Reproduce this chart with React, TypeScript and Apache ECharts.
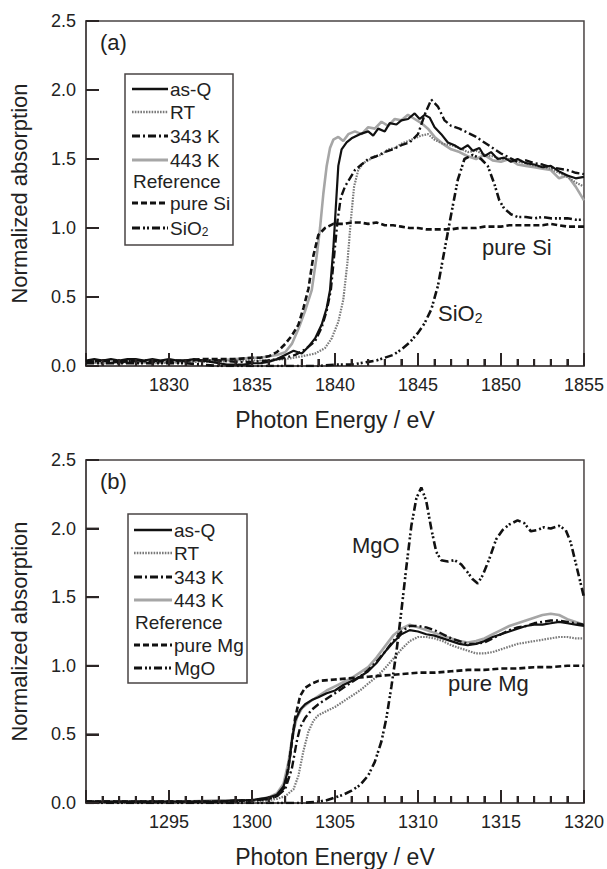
import React, { useEffect, useRef } from 'react';
import * as echarts from 'echarts';

// ---------- Panel (a): Si K-edge ----------
const siAsQ: number[][] = [[1825,0.04],[1825.5,0.05],[1826,0.04],[1826.5,0.05],[1827,0.04],[1827.5,0.05],[1828,0.05],[1828.5,0.04],[1829,0.05],[1829.5,0.04],[1830,0.05],[1830.5,0.04],[1831,0.04],[1831.5,0.05],[1832,0.04],[1832.5,0.03],[1833,0.02],[1833.5,0.01],[1834,0.01],[1834.5,0.01],[1835,0.02],[1835.5,0.02],[1836,0.03],[1836.5,0.05],[1837,0.08],[1837.5,0.11],[1838,0.09],[1838.4,0.14],[1838.8,0.2],[1839.2,0.3],[1839.5,0.42],[1839.7,0.55],[1839.9,0.85],[1840.05,1.15],[1840.2,1.45],[1840.4,1.57],[1840.7,1.62],[1841,1.65],[1841.5,1.68],[1842,1.7],[1842.3,1.67],[1842.6,1.72],[1843,1.7],[1843.3,1.76],[1843.7,1.75],[1844,1.78],[1844.4,1.79],[1844.8,1.83],[1845.1,1.79],[1845.4,1.82],[1845.7,1.8],[1846,1.73],[1846.4,1.68],[1846.8,1.62],[1847.2,1.6],[1847.6,1.57],[1848,1.6],[1848.3,1.56],[1848.7,1.58],[1849,1.52],[1849.4,1.55],[1849.8,1.5],[1850.2,1.51],[1850.6,1.48],[1851,1.5],[1851.5,1.47],[1852,1.46],[1852.5,1.44],[1853,1.45],[1853.5,1.41],[1854,1.38],[1854.5,1.36],[1855,1.37]];
const siRT: number[][] = [[1825,0.02],[1826,0.03],[1827,0.02],[1828,0.03],[1829,0.03],[1830,0.02],[1831,0.03],[1832,0.03],[1833,0.03],[1834,0.04],[1835,0.04],[1836,0.04],[1837,0.05],[1838,0.07],[1838.8,0.09],[1839.4,0.13],[1839.8,0.2],[1840.2,0.32],[1840.5,0.48],[1840.75,0.75],[1840.95,1.05],[1841.15,1.3],[1841.4,1.42],[1841.7,1.47],[1842,1.49],[1842.4,1.52],[1842.8,1.53],[1843.2,1.57],[1843.6,1.58],[1844,1.61],[1844.4,1.63],[1844.8,1.65],[1845.2,1.67],[1845.6,1.68],[1846,1.64],[1846.5,1.61],[1847,1.6],[1847.5,1.58],[1848,1.55],[1848.5,1.56],[1849,1.53],[1849.5,1.52],[1850,1.5],[1850.5,1.5],[1851,1.48],[1851.5,1.47],[1852,1.45],[1852.5,1.44],[1853,1.43],[1853.5,1.4],[1854,1.37],[1854.5,1.33],[1855,1.3]];
const si343: number[][] = [[1825,0.03],[1826,0.04],[1827,0.03],[1828,0.04],[1829,0.04],[1830,0.03],[1831,0.04],[1832,0.04],[1833,0.04],[1834,0.03],[1835,0.03],[1836,0.04],[1837,0.06],[1837.6,0.08],[1838.2,0.12],[1838.8,0.18],[1839.2,0.28],[1839.5,0.4],[1839.75,0.55],[1839.95,0.8],[1840.15,1.05],[1840.35,1.22],[1840.6,1.3],[1840.9,1.36],[1841.2,1.42],[1841.6,1.46],[1842,1.5],[1842.5,1.52],[1843,1.55],[1843.5,1.57],[1844,1.6],[1844.5,1.62],[1845,1.68],[1845.4,1.82],[1845.8,1.93],[1846.2,1.88],[1846.6,1.78],[1847,1.74],[1847.5,1.72],[1848,1.69],[1848.5,1.66],[1849,1.62],[1849.5,1.58],[1850,1.54],[1850.5,1.51],[1851,1.48],[1851.5,1.49],[1852,1.47],[1852.5,1.46],[1853,1.44],[1853.5,1.43],[1854,1.42],[1854.5,1.4],[1855,1.39]];
const si443: number[][] = [[1825,0.03],[1826,0.02],[1827,0.03],[1828,0.03],[1829,0.02],[1830,0.03],[1831,0.03],[1832,0.04],[1833,0.04],[1834,0.05],[1835,0.06],[1835.5,0.06],[1836,0.07],[1836.5,0.08],[1837,0.1],[1837.4,0.16],[1837.8,0.27],[1838.2,0.4],[1838.6,0.55],[1838.9,0.8],[1839.1,1.0],[1839.3,1.25],[1839.5,1.45],[1839.7,1.58],[1839.9,1.64],[1840.2,1.66],[1840.5,1.63],[1840.8,1.68],[1841.2,1.7],[1841.6,1.68],[1842,1.73],[1842.4,1.72],[1842.8,1.77],[1843.2,1.74],[1843.6,1.79],[1844,1.78],[1844.4,1.82],[1844.8,1.79],[1845.2,1.76],[1845.6,1.72],[1846,1.66],[1846.5,1.61],[1847,1.57],[1847.5,1.55],[1848,1.52],[1848.5,1.5],[1849,1.53],[1849.5,1.49],[1850,1.48],[1850.5,1.5],[1851,1.46],[1851.5,1.45],[1852,1.44],[1852.5,1.43],[1853,1.42],[1853.5,1.36],[1854,1.38],[1854.5,1.3],[1855,1.2]];
const siPure: number[][] = [[1825,0.03],[1826,0.04],[1827,0.03],[1828,0.04],[1829,0.03],[1830,0.04],[1831,0.04],[1832,0.05],[1833,0.05],[1834,0.05],[1835,0.06],[1835.5,0.06],[1836,0.07],[1836.5,0.1],[1837,0.16],[1837.4,0.22],[1837.8,0.3],[1838.1,0.42],[1838.4,0.56],[1838.7,0.8],[1839,0.95],[1839.4,1.0],[1839.9,1.03],[1840.5,1.03],[1841,1.04],[1841.5,1.04],[1842,1.03],[1842.5,1.04],[1843,1.02],[1843.5,1.02],[1844,1.01],[1844.5,1.0],[1845,1.0],[1845.5,0.99],[1846,0.99],[1846.5,0.99],[1847,0.99],[1847.5,1.0],[1848,1.0],[1848.5,1.0],[1849,1.01],[1849.5,1.01],[1850,1.01],[1850.5,1.02],[1851,1.02],[1851.5,1.02],[1852,1.02],[1852.5,1.02],[1853,1.03],[1853.5,1.02],[1854,1.01],[1854.5,1.01],[1855,1.01]];
const siO2: number[][] = [[1825,0.02],[1826,0.02],[1827,0.02],[1828,0.02],[1829,0.02],[1830,0.02],[1831,0.02],[1832,0.01],[1833,0.0],[1834,0.0],[1835,0.0],[1836,0.0],[1837,0.0],[1838,0.0],[1839,0.0],[1840,0.01],[1841,0.01],[1842,0.03],[1842.5,0.04],[1843,0.06],[1843.5,0.08],[1844,0.12],[1844.5,0.17],[1845,0.24],[1845.4,0.31],[1845.8,0.41],[1846.2,0.58],[1846.6,0.84],[1847,1.1],[1847.4,1.35],[1847.8,1.5],[1848.3,1.53],[1848.8,1.5],[1849.2,1.45],[1849.6,1.32],[1849.9,1.2],[1850.2,1.14],[1850.6,1.1],[1851,1.08],[1851.5,1.08],[1852,1.07],[1852.5,1.08],[1853,1.07],[1853.5,1.07],[1854,1.07],[1854.5,1.06],[1855,1.06]];

// ---------- Panel (b): Mg K-edge ----------
const mgAsQ: number[][] = [[1290,0.01],[1292,0.01],[1294,0.01],[1296,0.01],[1298,0.01],[1299,0.02],[1300,0.02],[1300.5,0.03],[1301,0.04],[1301.5,0.06],[1301.9,0.12],[1302.2,0.25],[1302.4,0.45],[1302.6,0.6],[1302.9,0.68],[1303.2,0.72],[1303.6,0.75],[1304,0.77],[1304.5,0.8],[1305,0.82],[1305.5,0.86],[1306,0.89],[1306.5,0.92],[1307,0.96],[1307.5,1.02],[1308,1.1],[1308.5,1.17],[1309,1.23],[1309.5,1.26],[1310,1.25],[1310.5,1.23],[1311,1.22],[1311.5,1.2],[1312,1.18],[1312.5,1.16],[1313,1.15],[1313.5,1.16],[1314,1.18],[1314.5,1.21],[1315,1.23],[1315.5,1.25],[1316,1.27],[1316.5,1.29],[1317,1.3],[1317.5,1.3],[1318,1.31],[1318.5,1.32],[1319,1.31],[1319.5,1.3],[1320,1.29]];
const mgRT: number[][] = [[1290,0.0],[1292,0.0],[1294,0.01],[1296,0.0],[1298,0.01],[1300,0.01],[1301,0.02],[1301.5,0.03],[1302,0.05],[1302.5,0.1],[1302.8,0.2],[1303.1,0.38],[1303.4,0.52],[1303.7,0.6],[1304,0.64],[1304.5,0.67],[1305,0.7],[1305.5,0.74],[1306,0.78],[1306.5,0.82],[1307,0.87],[1307.5,0.92],[1308,0.98],[1308.5,1.05],[1309,1.12],[1309.5,1.18],[1310,1.21],[1310.5,1.21],[1311,1.2],[1311.5,1.18],[1312,1.15],[1312.5,1.13],[1313,1.11],[1313.5,1.09],[1314,1.09],[1314.5,1.1],[1315,1.12],[1315.5,1.14],[1316,1.16],[1316.5,1.17],[1317,1.18],[1317.5,1.19],[1318,1.2],[1318.5,1.21],[1319,1.21],[1319.5,1.2],[1320,1.2]];
const mg343: number[][] = [[1290,0.01],[1292,0.01],[1294,0.01],[1296,0.01],[1298,0.01],[1300,0.02],[1301,0.03],[1301.5,0.05],[1302,0.1],[1302.4,0.25],[1302.7,0.45],[1302.9,0.55],[1303.2,0.62],[1303.6,0.68],[1304,0.72],[1304.5,0.76],[1305,0.8],[1305.5,0.84],[1306,0.88],[1306.5,0.92],[1307,0.97],[1307.5,1.03],[1308,1.1],[1308.5,1.18],[1309,1.25],[1309.5,1.29],[1310,1.29],[1310.5,1.28],[1311,1.26],[1311.5,1.23],[1312,1.2],[1312.5,1.18],[1313,1.16],[1313.5,1.16],[1314,1.17],[1314.5,1.2],[1315,1.23],[1315.5,1.26],[1316,1.28],[1316.5,1.29],[1317,1.31],[1317.5,1.32],[1318,1.33],[1318.5,1.33],[1319,1.32],[1319.5,1.31],[1320,1.3]];
const mg443: number[][] = [[1290,0.01],[1292,0.01],[1294,0.01],[1296,0.01],[1298,0.02],[1300,0.02],[1301,0.04],[1301.5,0.07],[1301.9,0.14],[1302.2,0.3],[1302.45,0.5],[1302.7,0.62],[1303,0.69],[1303.5,0.74],[1304,0.78],[1304.5,0.82],[1305,0.85],[1305.5,0.88],[1306,0.91],[1306.5,0.95],[1307,0.99],[1307.5,1.06],[1308,1.14],[1308.5,1.22],[1309,1.27],[1309.5,1.3],[1310,1.28],[1310.5,1.26],[1311,1.24],[1311.5,1.22],[1312,1.2],[1312.5,1.18],[1313,1.17],[1313.5,1.18],[1314,1.2],[1314.5,1.23],[1315,1.26],[1315.5,1.29],[1316,1.31],[1316.5,1.33],[1317,1.35],[1317.5,1.37],[1318,1.38],[1318.5,1.37],[1319,1.34],[1319.5,1.32],[1320,1.3]];
const mgPure: number[][] = [[1290,0.01],[1295,0.01],[1298,0.01],[1300,0.02],[1301,0.03],[1301.5,0.05],[1302,0.12],[1302.3,0.35],[1302.6,0.62],[1302.9,0.78],[1303.2,0.84],[1303.6,0.87],[1304,0.89],[1305,0.9],[1306,0.91],[1307,0.92],[1308,0.93],[1309,0.94],[1310,0.95],[1311,0.95],[1312,0.96],[1313,0.97],[1314,0.97],[1315,0.98],[1316,0.98],[1317,0.99],[1318,0.99],[1319,1.0],[1320,1.0]];
const mgO: number[][] = [[1290,0.0],[1295,0.0],[1300,0.0],[1302,0.0],[1303,0.0],[1304,0.01],[1304.5,0.02],[1305,0.04],[1305.5,0.06],[1306,0.09],[1306.5,0.13],[1307,0.2],[1307.4,0.3],[1307.8,0.45],[1308.1,0.62],[1308.4,0.85],[1308.7,1.1],[1309,1.4],[1309.3,1.72],[1309.6,2.02],[1309.9,2.22],[1310.2,2.3],[1310.5,2.2],[1310.8,2.0],[1311.1,1.83],[1311.4,1.77],[1311.8,1.76],[1312.2,1.77],[1312.6,1.74],[1313,1.68],[1313.3,1.63],[1313.6,1.6],[1313.9,1.66],[1314.3,1.78],[1314.7,1.92],[1315.1,1.99],[1315.5,2.03],[1316,2.06],[1316.4,2.04],[1316.8,1.98],[1317.2,1.99],[1317.6,2.01],[1318,2.0],[1318.5,2.02],[1318.9,1.99],[1319.2,1.9],[1319.5,1.75],[1319.8,1.6],[1320,1.5]];

const yTicks = [0, 0.5, 1.0, 1.5, 2.0, 2.5];
const xRangeA = [1825, 1855];
const xRangeB = [1290, 1320];

const FONT = '"Liberation Sans", Arial, Helvetica, sans-serif';
const INK = '#222';
const FRAME = '#4a4444';
const TICK = '#2b2525';

type Sty = { color: string; width: number; type: any };
const STY: Record<string, Sty> = {
  'as-Q': { color: '#111111', width: 2.2, type: 'solid' },
  'RT': { color: '#7a7a7a', width: 2.2, type: [1.6, 1.2] },
  '343 K': { color: '#111111', width: 2.4, type: [8, 3, 2, 3] },
  '443 K': { color: '#a6a6a6', width: 2.6, type: 'solid' },
  'pure': { color: '#111111', width: 2.6, type: [6, 3] },
  'oxide': { color: '#111111', width: 2.6, type: [8, 3, 2, 2, 2, 3] },
};

function mkSeries(name: string, data: number[][], sty: Sty, idx: number) {
  return {
    name, type: 'line', xAxisIndex: idx, yAxisIndex: idx, data,
    symbol: 'none', showSymbol: false,
    lineStyle: { color: sty.color, width: sty.width, type: sty.type },
  };
}

function legendGraphic(x: number, y: number, w: number, h: number, rows: number[], lx1: number, lx2: number, tx: number, refLabel: string, oxideLabel: string) {
  const els: any[] = [];
  els.push({ type: 'rect', shape: { x, y, width: w, height: h }, style: { fill: '#fff', stroke: FRAME, lineWidth: 1.5 }, z: 50 });
  const items: [string, string][] = [
    ['as-Q', 'as-Q'], ['RT', 'RT'], ['343 K', '343 K'], ['443 K', '443 K'],
    ['', 'Reference'], ['pure', refLabel], ['oxide', oxideLabel],
  ];
  items.forEach(([key, label], i) => {
    const cy = rows[i];
    if (key) {
      const s = STY[key];
      els.push({ type: 'line', shape: { x1: lx1, y1: cy, x2: lx2, y2: cy }, style: { stroke: s.color, lineWidth: s.width + 0.4, lineDash: s.type === 'solid' ? null : s.type }, z: 51 });
      const isOx = label === 'SiO2';
      els.push({ type: 'text', x: tx, y: cy, style: isOx ? {
        text: 'SiO{s|2}', font: `19px ${FONT}`, fill: INK, verticalAlign: 'middle', align: 'left',
        rich: { s: { fontSize: 12, fontFamily: FONT, fill: INK, padding: [8, 0, 0, 0] } },
      } : { text: label, font: `19px ${FONT}`, fill: INK, verticalAlign: 'middle', align: 'left' }, z: 52 });
    } else {
      els.push({ type: 'text', x: lx1 + 1, y: cy, style: { text: label, font: `19px ${FONT}`, fill: INK, verticalAlign: 'middle', align: 'left' }, z: 52 });
    }
  });
  return els;
}

function axisX(idx: number, range: number[]) {
  return {
    gridIndex: idx, type: 'value', min: range[0], max: range[1], interval: 5,
    name: 'Photon Energy / eV', nameLocation: 'middle', nameGap: 42,
    nameTextStyle: { fontSize: 23, color: INK, fontFamily: FONT },
    axisLine: { show: true, onZero: false, lineStyle: { color: FRAME, width: 1.5 } },
    axisTick: { show: true, inside: true, length: 13, lineStyle: { color: TICK, width: 2 } },
    minorTick: { show: true, splitNumber: 5, length: 7, lineStyle: { color: TICK, width: 2 } },
    axisLabel: { show: true, fontSize: 18, color: INK, fontFamily: FONT, margin: 10, showMinLabel: false, formatter: (v: number) => String(v) },
    splitLine: { show: false }, minorSplitLine: { show: false },
  };
}
function axisY(idx: number) {
  return {
    gridIndex: idx, type: 'value', min: yTicks[0], max: yTicks[yTicks.length - 1], interval: 0.5,
    name: 'Normalized absorption', nameLocation: 'middle', nameGap: 56,
    nameTextStyle: { fontSize: 22, color: INK, fontFamily: FONT },
    axisLine: { show: true, onZero: false, lineStyle: { color: FRAME, width: 1.5 } },
    axisTick: { show: true, inside: true, length: 13, lineStyle: { color: TICK, width: 2 } },
    axisLabel: { show: true, fontSize: 18, color: INK, fontFamily: FONT, margin: 10, formatter: (v: number) => v.toFixed(1) },
    splitLine: { show: false },
  };
}

export default function App() {
  const ref = useRef<HTMLDivElement>(null);
  useEffect(() => {
    document.body.style.margin = '0';
    const chart = echarts.init(ref.current!, null, { renderer: 'svg' });
    const baseGraphic: any[] = [
      { type: 'text', x: 100, y: 42, style: { text: '(a)', font: `22px ${FONT}`, fill: INK, verticalAlign: 'middle' } },
      { type: 'text', x: 100, y: 481, style: { text: '(b)', font: `22px ${FONT}`, fill: INK, verticalAlign: 'middle' } },
      { type: 'text', x: 482, y: 247, style: { text: 'pure Si', font: `22px ${FONT}`, fill: INK, verticalAlign: 'middle' } },
      { type: 'text', x: 438, y: 313, style: { text: 'SiO{s|2}', font: `22px ${FONT}`, fill: INK, verticalAlign: 'middle', rich: { s: { fontSize: 14, fontFamily: FONT, fill: INK, padding: [9, 0, 0, 0] } } } },
      { type: 'text', x: 352, y: 545, style: { text: 'MgO', font: `22px ${FONT}`, fill: INK, verticalAlign: 'middle' } },
      { type: 'text', x: 448, y: 683, style: { text: 'pure Mg', font: `22px ${FONT}`, fill: INK, verticalAlign: 'middle' } },
      ...legendGraphic(125, 74, 108, 171, [89, 112, 136, 160, 181, 203, 228], 132, 168, 170, 'pure Si', 'SiO2'),
      ...legendGraphic(128, 514, 119, 169, [530, 553, 577, 600, 622, 645, 668], 134, 172, 174, 'pure Mg', 'MgO'),
    ];
    const option: any = {
      animation: false,
      backgroundColor: '#fff',
      grid: [
        { left: 86, top: 21, width: 498, height: 345, show: true, borderColor: FRAME, borderWidth: 1.5 },
        { left: 86, top: 460, width: 498, height: 344, show: true, borderColor: FRAME, borderWidth: 1.5 },
      ],
      xAxis: [axisX(0, xRangeA), axisX(1, xRangeB)],
      yAxis: [axisY(0), axisY(1)],
      series: [
        mkSeries('443 K', si443, STY['443 K'], 0),
        mkSeries('RT', siRT, STY['RT'], 0),
        mkSeries('pure Si', siPure, STY['pure'], 0),
        mkSeries('SiO2', siO2, STY['oxide'], 0),
        mkSeries('343 K', si343, STY['343 K'], 0),
        mkSeries('as-Q', siAsQ, STY['as-Q'], 0),
        mkSeries('443 K', mg443, STY['443 K'], 1),
        mkSeries('RT', mgRT, STY['RT'], 1),
        mkSeries('pure Mg', mgPure, STY['pure'], 1),
        mkSeries('MgO', mgO, STY['oxide'], 1),
        mkSeries('343 K', mg343, STY['343 K'], 1),
        mkSeries('as-Q', mgAsQ, STY['as-Q'], 1),
      ],
      graphic: baseGraphic,
    };
    chart.setOption(option);

    // Tick marks placed through the chart's own scales (convertToPixel)
    const tickEls: any[] = [];
    const tickStyle = { stroke: TICK, lineWidth: 2, fill: null };
    [xRangeA, xRangeB].forEach((range, idx) => {
      const finder = { gridIndex: idx };
      for (let v = range[0] + 1; v < range[1]; v++) {
        const p = chart.convertToPixel(finder as any, [v, yTicks[0]]) as number[];
        if (!p || !isFinite(p[0])) continue;
        const len = (v - range[0]) % 5 === 0 ? 13 : 7;
        tickEls.push({ type: 'line', shape: { x1: p[0], y1: p[1], x2: p[0], y2: p[1] - len }, style: tickStyle, z: 40 });
      }
      yTicks.forEach((t) => {
        const p = chart.convertToPixel(finder as any, [range[0], t]) as number[];
        if (!p || !isFinite(p[0])) return;
        tickEls.push({ type: 'line', shape: { x1: p[0], y1: p[1], x2: p[0] + 13, y2: p[1] }, style: tickStyle, z: 40 });
      });
    });
    chart.setOption({ graphic: [...baseGraphic, ...tickEls] });
    return () => chart.dispose();
  }, []);
  return <div ref={ref} style={{ width: 607, height: 869, position: 'absolute', left: 0, top: 0 }} />;
}
